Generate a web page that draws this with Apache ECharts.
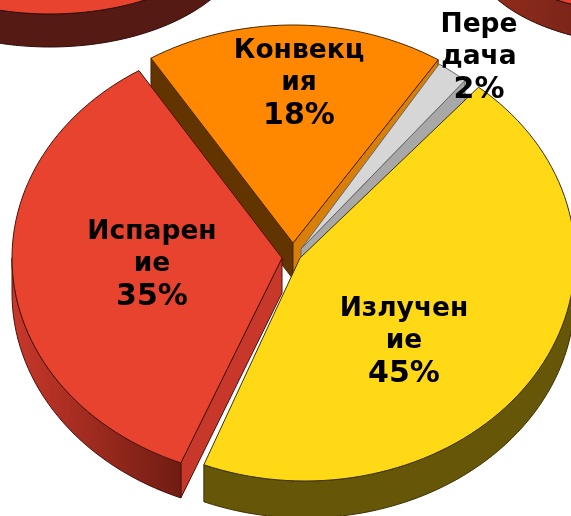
<!DOCTYPE html>
<html>
<head>
<meta charset="utf-8">
<style>
  html, body { margin: 0; padding: 0; background: #fff; }
  #chart { width: 571px; height: 516px; }
</style>
<script src="https://cdn.jsdelivr.net/npm/echarts@6/dist/echarts.min.js"></script>
</head>
<body>
<div id="chart"></div>
<script>
// data, in clockwise order from the left edge of the orange slice
var categories = ['Конвекц\nия', 'Пере\nдача', 'Излучен\nие', 'Испарен\nие'];
var shares = [18, 2, 45, 35];

// unlabelled neighbours cut off by the top of the picture
var croppedShares = [100, 100];

var startAngle = 122;

var sliceLayout = [
    { cx: 293, cy: 243, rx: 268, ry: 218, depth: 36, labelX: 299, labelY: 84, startWall: true, endWall: true },
    { cx: 301, cy: 249, rx: 255, ry: 220, depth: 36, labelX: 479, labelY: 58, startWall: false, endWall: true },
    { cx: 305, cy: 258, rx: 270, ry: 223, depth: 37, apexX: 300, labelX: 404, labelY: 342, startWall: false, endWall: false },
    { cx: 282, cy: 258, rx: 270, ry: 221, depth: 35, labelX: 152, labelY: 265, startWall: true, endWall: false }
];
var sliceColors = [
    { top: '#ff8800', outer: '#623400', startWall: '#623400', endWall: '#d97f08', line: '#4a2800' },
    { top: '#d6d6d6', outer: '#a8a8a8', startWall: '#a8a8a8', endWall: '#a8a8a8', line: '#666666' },
    { top: '#ffd916', outer: '#665608', startWall: '#665608', endWall: '#665608', line: '#3d3305' },
    { top: '#e8432f', outer: ['#c8382a', '#701c12'], startWall: '#c8382a', endWall: '#c8382a', line: '#4a120c' }
];
var croppedLayout = [
    { cx: 50, cy: -103, rx: 200, ry: 117, depth: 33 },
    { cx: 650, cy: -83, rx: 180, ry: 97, depth: 31 }
];
var croppedColors = [
    { top: '#e8432f', outer: '#561a14', line: '#2e0d0a' },
    { top: '#e8432f', outer: ['#962e1e', '#3a0f08'], line: '#2e0d0a' }
];

function arcPoints(s, from, to, dy) {
    var pts = [];
    var n = Math.max(2, Math.ceil(Math.abs(from - to) / 2));
    for (var i = 0; i <= n; i++) {
        var a = (from + (to - from) * i / n) * Math.PI / 180;
        pts.push([s.cx + s.rx * Math.cos(a), s.cy - s.ry * Math.sin(a) + (dy || 0)]);
    }
    return pts;
}

function paint(c) {
    if (typeof c === 'string') return c;
    return new echarts.graphic.LinearGradient(0, 0, 1, 0, [
        { offset: 0, color: c[0] },
        { offset: 1, color: c[1] }
    ]);
}

function poly(points, fill, line) {
    return {
        type: 'polygon',
        shape: { points: points },
        style: { fill: fill, stroke: line, lineWidth: 1 }
    };
}

function radialWall(s, pt, fill, line) {
    return poly([
        [s.cx, s.cy], pt, [pt[0], pt[1] + s.depth], [s.cx, s.cy + s.depth]
    ], fill, line);
}

function sliceShapes(s, col, a1, a2, hasApex) {
    var kids = [];
    var arc = arcPoints(s, a1, a2);
    if (s.startWall) kids.push(radialWall(s, arc[0], col.startWall, col.line));
    if (s.endWall) kids.push(radialWall(s, arc[arc.length - 1], col.endWall, col.line));
    // the rim only shows where the arc runs along the front
    var from = Math.min(a1, 0), to = Math.max(a2, -180);
    if (from > to) {
        var rim = arcPoints(s, from, to).concat(arcPoints(s, to, from, s.depth));
        kids.push(poly(rim, paint(col.outer), col.line));
    }
    var apex = [s.apexX || s.cx, s.cy];
    kids.push(poly(hasApex ? [apex].concat(arc) : arc, col.top, col.line));
    return kids;
}

var total = shares.reduce(function (a, b) { return a + b; }, 0);

function renderSlice(params, api) {
    var i = params.dataIndex;
    var before = shares.slice(0, i).reduce(function (a, b) { return a + b; }, 0);
    var a1 = startAngle - before / total * 360;
    var a2 = a1 - api.value(0) / total * 360;
    return { type: 'group', children: sliceShapes(sliceLayout[i], sliceColors[i], a1, a2, true) };
}

function renderLabel(params, api) {
    var i = params.dataIndex;
    var s = sliceLayout[i];
    var lines = categories[i].split('\n').map(function (t) { return '{n|' + t + '}'; });
    lines.push('{p|' + api.value(0) + '%}');
    return {
        type: 'text',
        z2: 100,
        style: {
            x: s.labelX,
            y: s.labelY,
            text: lines.join('\n'),
            fill: '#000',
            align: 'center',
            verticalAlign: 'middle',
            rich: {
                n: { font: 'bold 26.5px "DejaVu Sans"', lineHeight: 32, fill: '#000', align: 'center' },
                p: { font: 'bold 30px "DejaVu Sans"', lineHeight: 34, fill: '#000', align: 'center' }
            }
        }
    };
}

function renderCropped(params, api) {
    var i = params.dataIndex;
    var a1 = 90;
    var a2 = a1 - api.value(0) / 100 * 360;
    return { type: 'group', children: sliceShapes(croppedLayout[i], croppedColors[i], a1, a2, false) };
}

var chart = echarts.init(document.getElementById('chart'), null, { renderer: 'canvas' });
chart.setOption({
    backgroundColor: '#fff',
    animation: false,
    series: [
        { type: 'custom', coordinateSystem: 'none', silent: true, data: croppedShares, renderItem: renderCropped, z: 1 },
        { type: 'custom', coordinateSystem: 'none', silent: true, data: shares, renderItem: renderSlice, z: 2 },
        { type: 'custom', coordinateSystem: 'none', silent: true, data: shares, renderItem: renderLabel, z: 3 }
    ]
});
</script>
</body>
</html>
